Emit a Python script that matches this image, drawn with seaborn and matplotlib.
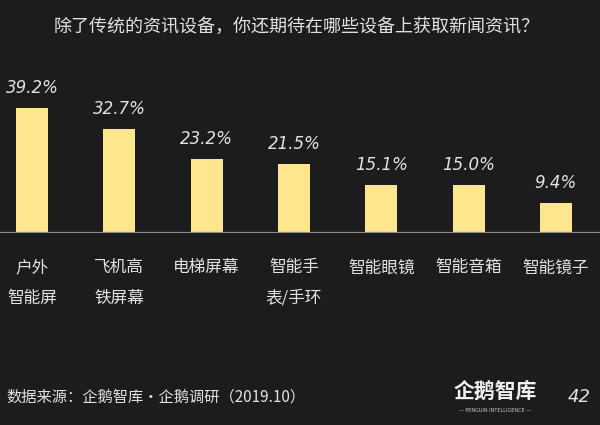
import numpy as np
import pandas as pd
import seaborn as sns
import matplotlib.pyplot as plt

# chart data
categories = ['户外\n智能屏', '飞机高\n铁屏幕', '电梯屏幕', '智能手\n表/手环', '智能眼镜', '智能音箱', '智能镜子']
values = [39.2, 32.7, 23.2, 21.5, 15.1, 15.0, 9.4]
value_labels = ['39.2%', '32.7%', '23.2%', '21.5%', '15.1%', '15.0%', '9.4%']

title = '除了传统的资讯设备，你还期待在哪些设备上获取新闻资讯？'
source = '数据来源：企鹅智库·企鹅调研（2019.10）'

bg = '#1c1c1c'
bar_color = '#fde68e'
text_color = '#e2e2e2'

sns.set_style('dark')
plt.rcParams['font.family'] = ['Noto Sans CJK SC', 'DejaVu Sans']

df = pd.DataFrame({'device': categories, 'share': values})

fig = plt.figure(figsize=(6, 4.25), dpi=100, facecolor=bg)
ax = fig.add_axes([0, 0.452, 1, 0.375])
ax.set_facecolor(bg)

sns.barplot(data=df, x='device', y='share', color=bar_color, width=0.367,
            saturation=1, linewidth=0, ax=ax)

ax.set_xlim(-0.367, 6.506)
ax.set_ylim(0, 50)

# value labels above bars
for i, (v, lab) in enumerate(zip(values, value_labels)):
    ax.annotate(lab, (i, v), xytext=(0, 8), textcoords='offset points',
                ha='center', va='bottom', fontsize=12, color=text_color,
                style='italic', family='DejaVu Sans')

# baseline
ax.axhline(0, color='#8a8a8a', lw=1.6, zorder=5)

for s in ax.spines.values():
    s.set_visible(False)
ax.set_yticks([])
ax.set_xlabel('')
ax.set_ylabel('')
ax.tick_params(axis='x', length=0, pad=19, labelsize=12, labelcolor=text_color)
for t in ax.get_xticklabels():
    t.set_linespacing(2.05)
    t.set_verticalalignment('top')
ax.grid(False)

fig.text(0.495, 0.937, title, ha='center', va='center', fontsize=13, color=text_color)
fig.text(0.01, 0.066, source, ha='left', va='center', fontsize=11, color=text_color)

# logo
fig.text(0.825, 0.08, '企鹅智库', ha='center', va='center', fontsize=15, color='#f0f0f0',
         fontweight='bold')
fig.text(0.825, 0.035, '— PENGUIN INTELLIGENCE —', ha='center', va='center',
         fontsize=3.5, color='#cccccc', family='DejaVu Sans')
fig.text(0.965, 0.066, '42', ha='center', va='center', fontsize=13, color=text_color,
         style='italic', family='DejaVu Sans')

fig.savefig('out.png', dpi=100, facecolor=bg)
